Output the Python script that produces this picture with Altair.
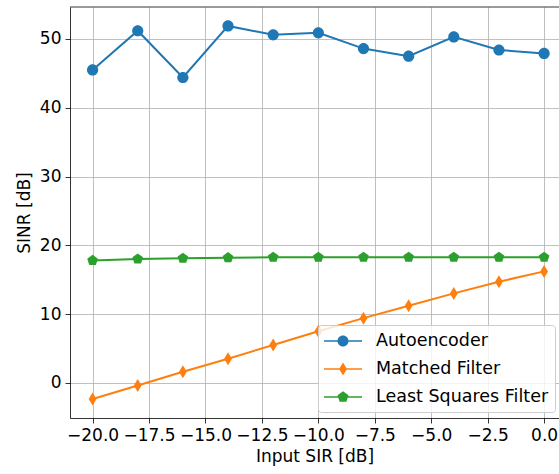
import altair as alt
import pandas as pd

x_vals = [-20, -18, -16, -14, -12, -10, -8, -6, -4, -2, 0]
autoencoder = [45.5, 51.2, 44.4, 51.9, 50.6, 50.9, 48.6, 47.5, 50.3, 48.4, 47.9]
matched = [-2.35, -0.4, 1.6, 3.5, 5.5, 7.5, 9.4, 11.2, 13.0, 14.7, 16.2]
least_sq = [17.8, 18.0, 18.1, 18.2, 18.25, 18.25, 18.25, 18.25, 18.25, 18.25, 18.25]

series_names = ["Autoencoder", "Matched Filter", "Least Squares Filter"]
series_colors = ["#1f77b4", "#ff7f0e", "#2ca02c"]
x_ticks = [-20, -17.5, -15, -12.5, -10, -7.5, -5, -2.5, 0]
y_ticks = [0, 10, 20, 30, 40, 50]

rows = []
for name, vals in zip(series_names, [autoencoder, matched, least_sq]):
    for xv, yv in zip(x_vals, vals):
        rows.append({"sir": xv, "sinr": yv, "series": name})
df = pd.DataFrame(rows)

# marker paths
circle = "M-1,0 A1,1 0 1,1 1,0 A1,1 0 1,1 -1,0 Z"
thin_diamond = "M0,-1 L0.6,0 L0,1 L-0.6,0 Z"
pentagon = "M0,-1 L0.951,-0.309 L0.588,0.809 L-0.588,0.809 L-0.951,-0.309 Z"
markers = [circle, thin_diamond, pentagon]
sizes = [125, 170, 125]

# legend paths: line segment + marker (same winding direction)
bar = "M-1,-0.08 L2.8,-0.08 L2.8,0.08 L-1,0.08 Z "
leg_paths = [
    bar + "M0.35,0 A0.55,0.55 0 1,1 1.45,0 A0.55,0.55 0 1,1 0.35,0 Z",
    bar + "M0.9,-0.65 L1.3,0 L0.9,0.65 L0.5,0 Z",
    bar + "M0.9,-0.58 L1.45,-0.18 L1.24,0.47 L0.56,0.47 L0.35,-0.18 Z",
]

xscale = alt.Scale(domain=[-21.0, 0.66], nice=False, zero=False)
yscale = alt.Scale(domain=[-5.12, 54.65], nice=False, zero=False)

xaxis = alt.Axis(values=x_ticks, format=".1f", title="Input SIR [dB]")
yaxis = alt.Axis(values=y_ticks, format="d", title="SINR [dB]")

base = alt.Chart(df)
layers = []
for i, name in enumerate(series_names):
    sub = base.transform_filter(alt.datum.series == name)
    layers.append(
        sub.mark_line(color=series_colors[i], strokeWidth=2).encode(
            x=alt.X("sir:Q", scale=xscale, axis=xaxis),
            y=alt.Y("sinr:Q", scale=yscale, axis=yaxis),
        )
    )
    layers.append(
        sub.mark_point(shape=markers[i], filled=True, opacity=1,
                       size=sizes[i], color=series_colors[i]).encode(
            x=alt.X("sir:Q", scale=xscale),
            y=alt.Y("sinr:Q", scale=yscale),
        )
    )

legend_layer = base.transform_filter("false").mark_point(filled=True, opacity=1).encode(
    color=alt.Color("series:N",
                    scale=alt.Scale(domain=series_names, range=series_colors),
                    legend=alt.Legend(title=None, orient="none", legendX=248, legendY=318,
                                      symbolSize=400, symbolStrokeWidth=0,
                                      labelOffset=32, rowPadding=9, labelLimit=400,
                                      labelFontSize=17.5, labelFont="DejaVu Sans",
                                      labelColor="black", padding=6,
                                      fillColor="rgba(255,255,255,0.8)",
                                      strokeColor="#cccccc", cornerRadius=3)),
    shape=alt.Shape("series:N",
                    scale=alt.Scale(domain=series_names, range=leg_paths)),
)

top_border = alt.Chart(pd.DataFrame({"a": [0]})).mark_rule(color="black", strokeWidth=0.8).encode(
    y=alt.value(0)
)

chart = alt.layer(*layers, legend_layer, top_border).properties(
    width=489, height=411,
    padding={"left": 70, "top": 7, "right": 0, "bottom": 56},
    autosize=alt.AutoSizeParams(type="none"),
).configure_view(stroke=None).configure_axis(
    labelFont="DejaVu Sans", titleFont="DejaVu Sans",
    labelFontSize=17, titleFontSize=17, titleFontWeight="normal",
    labelColor="black", titleColor="black",
    domainColor="black", domainWidth=0.8,
    tickColor="black", tickWidth=0.8, tickSize=5,
    gridColor="#b0b0b0", gridWidth=0.8, gridOpacity=1,
    labelPadding=4,
).configure_axisX(titlePadding=5).configure_axisY(titlePadding=6)

chart.save("out.html", embed_options={"renderer": "svg", "actions": False})
